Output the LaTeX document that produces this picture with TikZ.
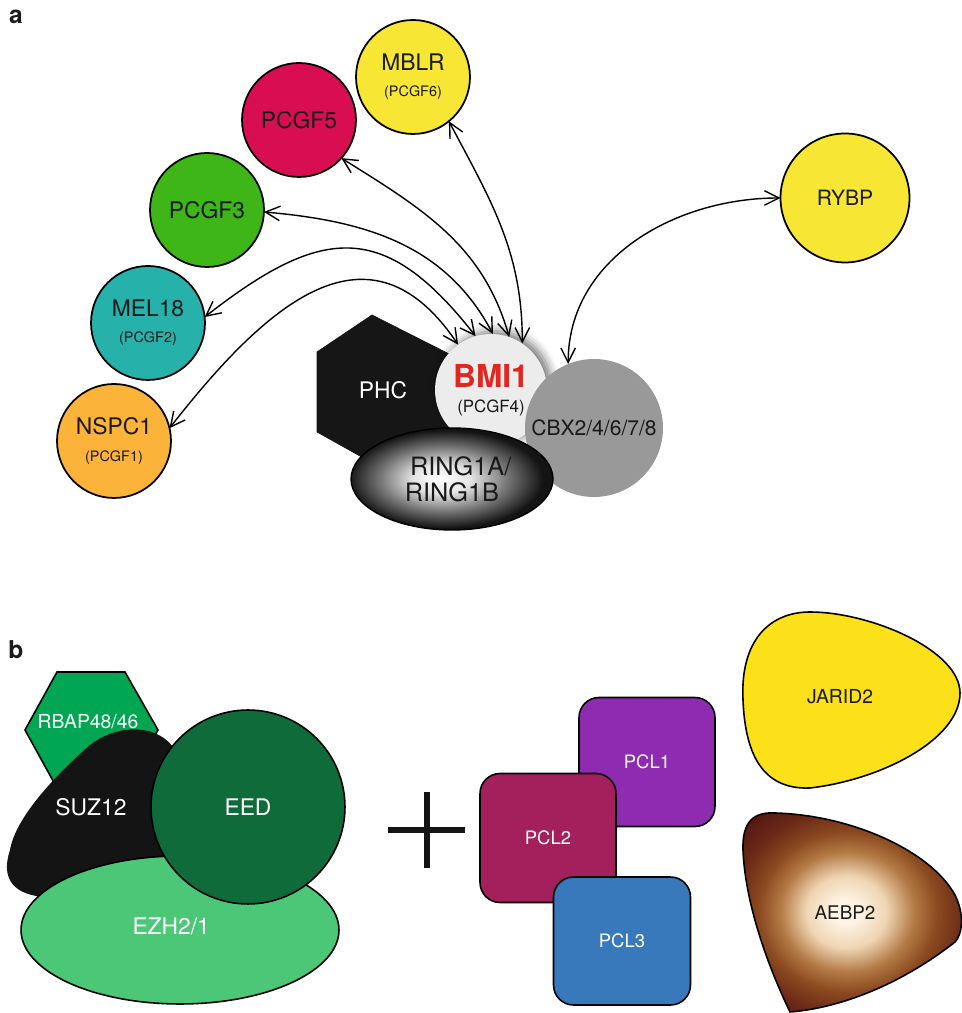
\documentclass[tikz,border=0pt]{standalone}
\usepackage{fontspec}
\setmainfont{TeX Gyre Heros}
\usetikzlibrary{arrows.meta,shapes.geometric,shadows.blur}
\definecolor{txt}{HTML}{1A1A1A}
\definecolor{cMBLR}{HTML}{F7E633}
\definecolor{cPCGF5}{HTML}{D90D52}
\definecolor{cPCGF3}{HTML}{3FB618}
\definecolor{cMEL}{HTML}{26B2AA}
\definecolor{cNSPC}{HTML}{FBB33A}
\definecolor{cBMI}{HTML}{EBECEB}
\definecolor{cCBX}{HTML}{999999}
\definecolor{cPHC}{HTML}{161616}
\definecolor{cBMIred}{HTML}{E0261F}
\definecolor{cRBAP}{HTML}{00A651}
\definecolor{cSUZ}{HTML}{141414}
\definecolor{cEED}{HTML}{106B3A}
\definecolor{cEZH}{HTML}{4CC777}
\definecolor{cPCL1}{HTML}{8E2BB0}
\definecolor{cPCL2}{HTML}{A3205C}
\definecolor{cPCL3}{HTML}{3779BA}
\definecolor{cJAR}{HTML}{FBE01A}
\definecolor{aeA}{HTML}{FDF3E3}
\definecolor{aeB}{HTML}{EFD5B4}
\definecolor{aeC}{HTML}{B47A45}
\definecolor{aeD}{HTML}{8B4A1F}
\definecolor{aeE}{HTML}{6A2817}
\definecolor{aeF}{HTML}{561812}
\pgfdeclareradialshading{ringshade}{\pgfpoint{-3bp}{0bp}}{color(0bp)=(white); color(7bp)=(white!90!black); color(16bp)=(black!55); color(24bp)=(black!92); color(50bp)=(black!92)}
\pgfdeclareradialshading{aebpshade}{\pgfpoint{-2bp}{0bp}}{color(0bp)=(aeA); color(3bp)=(aeA); color(9bp)=(aeB); color(15bp)=(aeC); color(20bp)=(aeD); color(26bp)=(aeE); color(32bp)=(aeF); color(50bp)=(aeF)}
\newcommand\smallsub{\fontsize{8.2}{9}\selectfont}
\tikzset{
  prot/.style={circle, draw=black, line width=1pt, inner sep=0pt, outer sep=0pt,
    minimum size=2.28cm, align=center, text=txt, font=\fontsize{13}{14}\selectfont},
  link/.style={{Straight Barb[length=2.9mm,width=2.9mm]}-{Straight Barb[length=2.9mm,width=2.9mm]},
    line width=0.8pt, draw=black},
  pcl/.style={rectangle, rounded corners=0.4cm, draw=black, line width=0.9pt,
    minimum width=2.72cm, minimum height=2.58cm, text=white, font=\fontsize{10.5}{12}\selectfont},
  blob/.style={draw=black, line width=0.9pt},
  panel/.style={font=\bfseries\fontsize{14}{16}\selectfont, text=txt},
}
\begin{document}
\begin{tikzpicture}[x=0.02cm, y=0.02cm]
\useasboundingbox (0,0) rectangle (962,1013);
% ---------------- panel a ----------------
\node[panel] (la) at (16,996) {a};
\node[prot, fill=cMBLR] (MBLR) at (413,936) {MBLR\\[1pt]{\smallsub (PCGF6)}};
\node[prot, fill=cPCGF5] (PCGF5) at (299,893) {PCGF5};
\node[prot, fill=cPCGF3] (PCGF3) at (207,803) {PCGF3};
\node[prot, fill=cMEL] (MEL18) at (148,690) {MEL18\\[1pt]{\smallsub (PCGF2)}};
\node[prot, fill=cNSPC] (NSPC1) at (114,572) {NSPC1\\[1pt]{\smallsub (PCGF1)}};
\node[prot, fill=cMBLR, minimum size=2.58cm, font=\fontsize{12}{14}\selectfont] (RYBP) at (845,815) {RYBP};
% core complex
\filldraw[fill=cPHC, draw=cPHC] (372,698) -- (317,661) -- (317,581) -- (385,543) -- (455,573) -- (455,656) -- cycle;
\node[text=white, font=\fontsize{13}{14}\selectfont] (PHC) at (383,623) {PHC};
\node[circle, fill=cBMI, inner sep=0pt, outer sep=0pt, minimum size=2.24cm, align=center,
  blur shadow={shadow xshift=2.5pt, shadow yshift=1.5pt, shadow blur radius=5pt, shadow opacity=55}]
  (BMI1) at (491,623) {{\bfseries\color{cBMIred}\fontsize{18}{20}\selectfont BMI1}\\[2pt]{\color{txt}\fontsize{9.6}{11}\selectfont (PCGF4)}};
\node[circle, fill=cCBX, inner sep=0pt, outer sep=0pt, minimum size=2.76cm, text=txt,
  font=\fontsize{12}{14}\selectfont] (CBX) at (594,585) {CBX2/4/6/7/8};
\node[ellipse, shading=ringshade, draw=black, line width=0.8pt, inner sep=0pt, outer sep=0pt,
  minimum width=4.04cm, minimum height=2.04cm, align=center, text=txt,
  font=\fontsize{14.4}{15}\selectfont] (RING) at (452,534) {\hspace*{10pt}RING1A/\\RING1B};
% connectors
\draw[link] (MBLR.-51) to[out=-62, in=90] (BMI1.56);
\draw[link] (PCGF5.-42) to[out=-32, in=106] (BMI1.71);
\draw[link] (PCGF3.-2) to[out=-5, in=118] (BMI1.88);
\draw[link] (MEL18.6) to[out=38, in=128, looseness=1.4] (BMI1.106);
\draw[link] (NSPC1.13) to[out=52, in=124, looseness=1.35] (BMI1.126);
\draw[link] (CBX.112) to[out=90, in=180] (RYBP.180);
% ---------------- panel b ----------------
\node[panel] (lb) at (16,363) {b};
\filldraw[fill=cRBAP, blob] (57,341) -- (125,341) -- (158,283) -- (125,225) -- (57,225) -- (25,283) -- cycle;
\node[text=white, font=\fontsize{11}{12}\selectfont] (RBAP) at (88,291) {RBAP48/46};
\fill[cSUZ] (175,263) .. controls (160,288) and (120,291) .. (90,268)
  .. controls (50,233) and (15,193) .. (10,163)
  .. controls (0,133) and (15,118) .. (45,116) -- (170,133) -- cycle;
\node[text=white, font=\fontsize{13}{14}\selectfont] (SUZ) at (91,206) {SUZ12};
\node[ellipse, fill=cEZH, blob, inner sep=0pt, minimum width=6.36cm, minimum height=2.96cm,
  text=white, font=\fontsize{13}{14}\selectfont] (EZH) at (180,83) {\raisebox{4pt}{EZH2/1}\hspace*{10pt}};
\node[circle, fill=cEED, blob, inner sep=0pt, minimum size=3.88cm, text=white,
  font=\fontsize{13}{14}\selectfont] (EED) at (248,206) {EED};
% plus sign
\coordinate (pl) at (388,183);
\coordinate (pr) at (465,183);
\coordinate (pt) at (427,221);
\coordinate (pb) at (427,145);
\draw[line width=3.2pt, black!92] (pl) -- (pr);
\draw[line width=3.2pt, black!92] (pt) -- (pb);
% PCL boxes
\node[pcl, fill=cPCL1] (PCL1) at (647,251) {PCL1};
\node[pcl, fill=cPCL2] (PCL2) at (548,175) {PCL2};
\node[pcl, fill=cPCL3, minimum width=2.74cm, minimum height=2.56cm] (PCL3) at (622,72) {PCL3};
% JARID2
\filldraw[fill=cJAR, blob] (743,313) .. controls (740,373) and (770,401) .. (810,401)
  .. controls (870,401) and (960,363) .. (960,320)
  .. controls (960,273) and (880,233) .. (810,225)
  .. controls (760,223) and (745,263) .. cycle;
\node[text=txt, font=\fontsize{11}{12}\selectfont] (JARID2) at (840,316) {JARID2};
% AEBP2
\shadedraw[shading=aebpshade, blob] (743,163) .. controls (742,193) and (755,201) .. (775,200)
  .. controls (850,198) and (930,163) .. (955,118)
  .. controls (965,98) and (962,78) .. (955,71)
  .. controls (900,28) and (840,5) .. (790,1)
  .. controls (765,53) and (745,113) .. cycle;
\node[text=txt, font=\fontsize{10.7}{12}\selectfont] (AEBP2) at (845,100) {AEBP2};
\end{tikzpicture}
\end{document}
